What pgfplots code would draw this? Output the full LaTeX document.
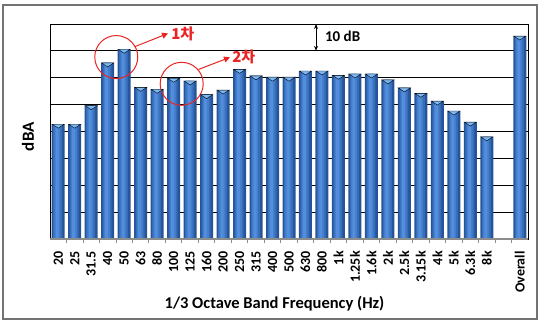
\documentclass[border=0pt]{standalone}
\usepackage{pgfplots}
\pgfplotsset{compat=1.18}
\usepackage{pgfplotstable}
\usetikzlibrary{arrows.meta}
\usepackage{fontspec}
\setmainfont{Carlito}
\newfontfamily\kr{Noto Sans CJK KR}
\definecolor{barA}{RGB}{38,84,152}
\definecolor{barB}{RGB}{54,108,184}
\definecolor{barC}{RGB}{68,125,204}
\definecolor{barD}{RGB}{82,142,220}
\definecolor{barcap}{RGB}{125,185,245}
\definecolor{gridgray}{RGB}{140,140,140}
\definecolor{annred}{RGB}{235,35,35}

\pgfplotstableread{
x y
0 42.7
1 42.7
2 49.6
3 65.5
4 70.6
5 56.4
6 55.7
7 59.8
8 58.8
9 53.7
10 55.4
11 63.1
12 60.7
13 60.2
14 60.2
15 62.5
16 62.5
17 60.9
18 61.4
19 61.4
20 59.2
21 56.2
22 54.2
23 51.3
24 47.6
25 43.5
26 38.0
28 75.5
}\bands

\begin{document}
\begin{tikzpicture}
\useasboundingbox (-50bp,-81bp) rectangle (491bp,239bp);
\draw[line width=1.5bp, black!55] (-47bp,-80bp) rectangle (487bp,234bp);
\begin{axis}[
  at={(0,0)}, anchor=south west,
  scale only axis, width=478bp, height=215bp,
  xmin=-0.5, xmax=28.5, ymin=0, ymax=80,
  axis line style={draw=black, line width=0.8bp},
  xtick={0,...,28},
  xticklabels={20,25,31.5,40,50,63,80,100,125,160,200,250,315,400,500,630,800,1k,1.25k,1.6k,2k,2.5k,3.15k,4k,5k,6.3k,8k,{},Overall},
  minor xtick={0.5,1.5,...,27.5},
  xtick pos=bottom, ytick pos=left,
  tick align=outside,
  major tick length=0pt,
  minor tick length=4bp,
  minor tick style={gridgray, line width=0.8bp},
  xticklabel style={rotate=90, anchor=east, font=\fontsize{14bp}{14bp}\selectfont\bfseries, inner sep=1bp, xshift=-11bp},
  ytick={20,40,60}, yticklabels={},
  ymajorgrids,
  major grid style={black, line width=0.8bp},
  extra y ticks={10,30,50,70}, extra y tick labels={},
  extra y tick style={grid style={gridgray, line width=1.6bp}},
  xlabel={1/3 Octave Band Frequency (Hz)},
  xlabel style={at={(axis description cs:0.4697,-0.302)}, anchor=center, font=\fontsize{16.5bp}{18bp}\selectfont\bfseries},
  ylabel={dBA},
  ylabel style={at={(axis description cs:-0.046,0.476)}, anchor=center, font=\fontsize{17bp}{18bp}\selectfont\bfseries},
  clip=false,
]
\addplot[ybar, bar shift=0pt, bar width=13bp, draw=none, fill=barA] table[x=x,y=y] {\bands};
\addplot[ybar, bar shift=-0.5bp, bar width=9bp, draw=none, fill=barB] table[x=x,y=y] {\bands};
\addplot[ybar, bar shift=-0.8bp, bar width=6bp, draw=none, fill=barC] table[x=x,y=y] {\bands};
\addplot[ybar, bar shift=-1bp, bar width=3bp, draw=none, fill=barD] table[x=x,y=y] {\bands};
\addplot[only marks, mark=triangle*, mark size=7bp, mark options={draw=none, fill=barcap, yshift=-1.3bp, yscale=0.38, rotate=180}] table[x=x,y=y] {\bands};
\draw[gridgray, line width=1.6bp] (axis cs:-0.5,0) -- (axis cs:28.5,0);
% 10 dB marker
\draw[{Stealth[length=5bp,width=4bp]}-{Stealth[length=5bp,width=4bp]}, black, line width=0.9bp] (axis cs:15.64,80) -- (axis cs:15.64,70);
\node[anchor=west, inner sep=0pt, font=\fontsize{15bp}{16bp}\selectfont\bfseries] at (axis cs:16.18,75.5) {10 dB};
% circles and arrows
\draw[annred, line width=1bp] (axis cs:3.52,67.7) circle[radius=21.5bp];
\draw[annred, line width=1bp] (axis cs:7.49,57.75) circle[radius=21.5bp];
\draw[annred, line width=1bp, -{Triangle[length=6bp,width=6bp]}] (axis cs:4.66,71.6) -- (axis cs:6.66,76.5);
\draw[annred, line width=1bp, -{Triangle[length=6bp,width=6bp]}] (axis cs:8.51,63.1) -- (axis cs:10.42,67.6);
\node[anchor=west, inner sep=0pt, text=annred, font=\kr\bfseries\fontsize{15bp}{16bp}\selectfont] at (axis cs:6.85,76.3) {1차};
\node[anchor=west, inner sep=0pt, text=annred, font=\kr\bfseries\fontsize{15bp}{16bp}\selectfont] at (axis cs:10.55,67.7) {2차};
\end{axis}
\end{tikzpicture}
\end{document}
